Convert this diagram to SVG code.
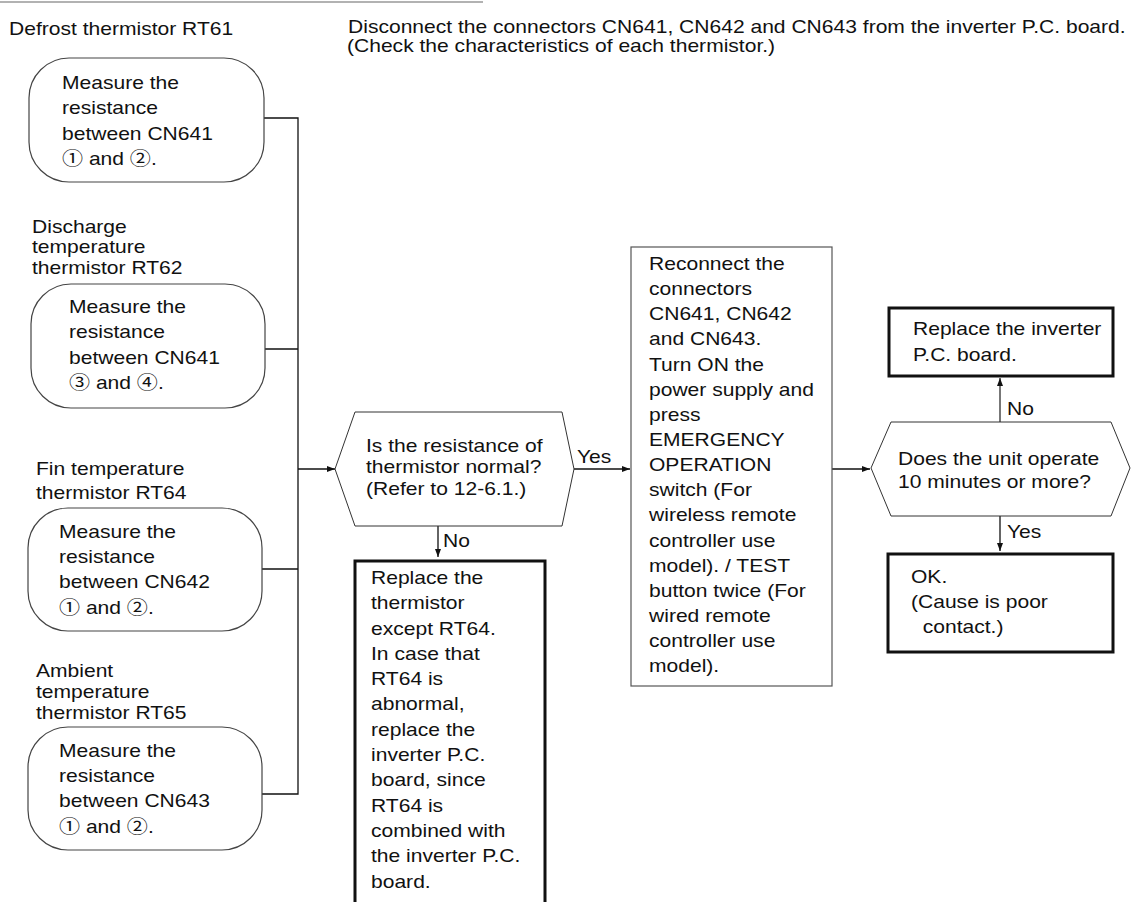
<svg xmlns="http://www.w3.org/2000/svg" width="1138" height="902" viewBox="0 0 1138 902">
<style>
.t{font-family:"Liberation Sans",Arial,"Noto Sans CJK JP",sans-serif;font-size:18px;fill:#111}
.rb{fill:#fff;stroke:#444;stroke-width:1.2}
.thin{fill:#fff;stroke:#555;stroke-width:1.2}
.thick{fill:#fff;stroke:#111;stroke-width:3}
.hex{fill:#fff;stroke:#333;stroke-width:1}
.ln{fill:none;stroke:#111;stroke-width:1.3}
.gray{fill:none;stroke:#777;stroke-width:2}
</style>
<defs>
<marker id="ah" viewBox="0 0 8 6" refX="8" refY="3" markerWidth="8" markerHeight="6" markerUnits="userSpaceOnUse" orient="auto">
<path d="M0,0 L8,3 L0,6 z" fill="#111"/>
</marker>
</defs>
<rect width="1138" height="902" fill="#fff"/>
<line x1="0" y1="2" x2="483" y2="2" stroke="#999" stroke-width="1.5"/>

<g id="header">
<text class="t" transform="translate(348 33) scale(1.17 1)"><tspan x="0" y="0">Disconnect the connectors CN641, CN642 and CN643 from the inverter P.C. board.</tspan></text>
<text class="t" transform="translate(347 52) scale(1.17 1)"><tspan x="0" y="0">(Check the characteristics of each thermistor.)</tspan></text>
</g>

<g id="connectors">
<polyline class="ln" points="264,118 298,118 298,794 262,794"/>
<line class="ln" x1="265" y1="349" x2="298" y2="349"/>
<line class="ln" x1="262" y1="569" x2="298" y2="569"/>
<line class="ln" x1="298" y1="469" x2="335" y2="469" marker-end="url(#ah)"/>
<line class="ln" x1="574" y1="469" x2="630" y2="469" marker-end="url(#ah)"/>
<line class="ln" x1="438" y1="526" x2="438" y2="557" marker-end="url(#ah)"/>
<line class="ln" x1="832" y1="469" x2="870" y2="469" marker-end="url(#ah)"/>
<line class="gray" x1="1000" y1="422" x2="1000" y2="378" marker-end="url(#ah)"/>
<line class="ln" x1="1000" y1="516" x2="1000" y2="551" marker-end="url(#ah)"/>
<text class="t" transform="translate(577 463) scale(1.17 1)">Yes</text>
<text class="t" transform="translate(443 547) scale(1.17 1)">No</text>
<text class="t" transform="translate(1007 415) scale(1.17 1)">No</text>
<text class="t" transform="translate(1007 538) scale(1.17 1)">Yes</text>
</g>

<g id="rt61">
<text class="t" transform="translate(9 35) scale(1.17 1)">Defrost thermistor RT61</text>
<rect class="rb" x="29" y="58" width="235" height="124" rx="40" ry="40"/>
<text class="t" transform="translate(62 89) scale(1.17 1)"><tspan x="0" y="0">Measure the</tspan><tspan x="0" y="25.3">resistance</tspan><tspan x="0" y="50.6">between CN641</tspan><tspan x="0" y="75.9">① and ②.</tspan></text>
</g>

<g id="rt62">
<text class="t" transform="translate(32 233) scale(1.17 1)"><tspan x="0" y="0">Discharge</tspan><tspan x="0" y="20.5">temperature</tspan><tspan x="0" y="41">thermistor RT62</tspan></text>
<rect class="rb" x="31" y="284" width="234" height="124" rx="40" ry="40"/>
<text class="t" transform="translate(69 313) scale(1.17 1)"><tspan x="0" y="0">Measure the</tspan><tspan x="0" y="25.3">resistance</tspan><tspan x="0" y="50.6">between CN641</tspan><tspan x="0" y="75.9">③ and ④.</tspan></text>
</g>

<g id="rt64">
<text class="t" transform="translate(36 475) scale(1.17 1)"><tspan x="0" y="0">Fin temperature</tspan><tspan x="0" y="24">thermistor RT64</tspan></text>
<rect class="rb" x="28" y="508" width="234" height="123" rx="40" ry="40"/>
<text class="t" transform="translate(59 538) scale(1.17 1)"><tspan x="0" y="0">Measure the</tspan><tspan x="0" y="25.2">resistance</tspan><tspan x="0" y="50.4">between CN642</tspan><tspan x="0" y="75.6">① and ②.</tspan></text>
</g>

<g id="rt65">
<text class="t" transform="translate(36 677) scale(1.17 1)"><tspan x="0" y="0">Ambient</tspan><tspan x="0" y="20.8">temperature</tspan><tspan x="0" y="42">thermistor RT65</tspan></text>
<rect class="rb" x="28" y="727" width="234" height="123" rx="40" ry="40"/>
<text class="t" transform="translate(59 757) scale(1.17 1)"><tspan x="0" y="0">Measure the</tspan><tspan x="0" y="25.2">resistance</tspan><tspan x="0" y="50.4">between CN643</tspan><tspan x="0" y="75.6">① and ②.</tspan></text>
</g>

<g id="decision1">
<polygon class="hex" points="335,469 355,412 562,412 574,469 562,526 355,526"/>
<text class="t" transform="translate(366 452) scale(1.17 1)"><tspan x="0" y="0">Is the resistance of</tspan><tspan x="0" y="21.5">thermistor normal?</tspan><tspan x="0" y="43">(Refer to 12-6.1.)</tspan></text>
</g>

<g id="replace-thermistor">
<rect class="thick" x="355" y="561" width="190" height="360"/>
<text class="t" transform="translate(371 584) scale(1.17 1)"><tspan x="0" y="0">Replace the</tspan><tspan x="0" y="25.3">thermistor</tspan><tspan x="0" y="50.6">except RT64.</tspan><tspan x="0" y="75.9">In case that</tspan><tspan x="0" y="101.2">RT64 is</tspan><tspan x="0" y="126.5">abnormal,</tspan><tspan x="0" y="151.8">replace the</tspan><tspan x="0" y="177.1">inverter P.C.</tspan><tspan x="0" y="202.4">board, since</tspan><tspan x="0" y="227.7">RT64 is</tspan><tspan x="0" y="253">combined with</tspan><tspan x="0" y="278.3">the inverter P.C.</tspan><tspan x="0" y="303.6">board.</tspan></text>
</g>

<g id="reconnect">
<rect class="thin" x="631" y="247" width="201" height="439"/>
<text class="t" transform="translate(649 270) scale(1.17 1)"><tspan x="0" y="0">Reconnect the</tspan><tspan x="0" y="25.15">connectors</tspan><tspan x="0" y="50.3">CN641, CN642</tspan><tspan x="0" y="75.45">and CN643.</tspan><tspan x="0" y="100.6">Turn ON the</tspan><tspan x="0" y="125.75">power supply and</tspan><tspan x="0" y="150.9">press</tspan><tspan x="0" y="176.05">EMERGENCY</tspan><tspan x="0" y="201.2">OPERATION</tspan><tspan x="0" y="226.35">switch (For</tspan><tspan x="0" y="251.5">wireless remote</tspan><tspan x="0" y="276.65">controller use</tspan><tspan x="0" y="301.8">model). / TEST</tspan><tspan x="0" y="326.95">button twice (For</tspan><tspan x="0" y="352.1">wired remote</tspan><tspan x="0" y="377.25">controller use</tspan><tspan x="0" y="402.4">model).</tspan></text>
</g>

<g id="decision2">
<polygon class="hex" points="871,468 891,422 1111,422 1130,468 1111,516 891,516"/>
<text class="t" transform="translate(898 465) scale(1.17 1)"><tspan x="0" y="0">Does the unit operate</tspan><tspan x="0" y="23">10 minutes or more?</tspan></text>
</g>

<g id="replace-inverter">
<rect class="thick" x="889" y="308" width="224" height="68"/>
<text class="t" transform="translate(913 335) scale(1.17 1)"><tspan x="0" y="0">Replace the inverter</tspan><tspan x="0" y="26">P.C. board.</tspan></text>
</g>

<g id="ok">
<rect class="thick" x="888" y="554" width="225" height="98"/>
<text class="t" transform="translate(911 583) scale(1.17 1)"><tspan x="0" y="0">OK.</tspan><tspan x="0" y="25">(Cause is poor</tspan><tspan x="10" y="50">contact.)</tspan></text>
</g>
</svg>
